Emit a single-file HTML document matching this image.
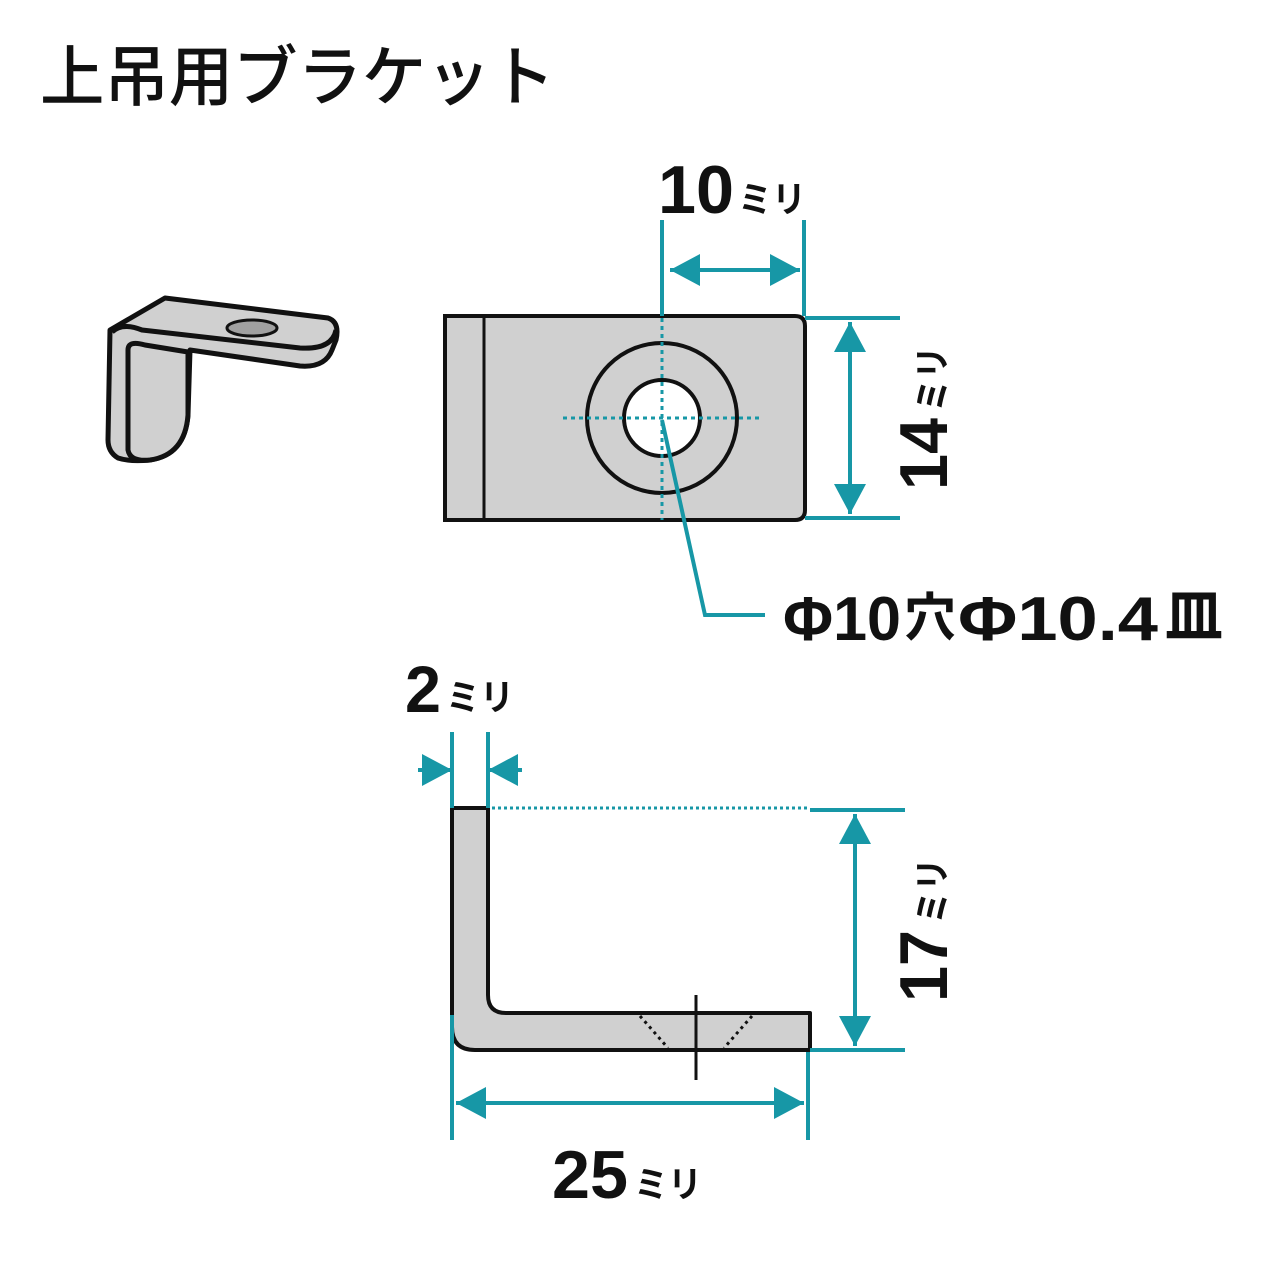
<!DOCTYPE html>
<html><head><meta charset="utf-8"><style>
html,body{margin:0;padding:0;background:#fff;width:1280px;height:1280px;overflow:hidden}
svg{display:block}
.n{font-family:"Liberation Sans",sans-serif;font-weight:bold;fill:#111}
.j{font-family:"Liberation Sans","Noto Sans CJK JP",sans-serif;fill:#111}
</style></head><body>
<svg width="1280" height="1280" viewBox="0 0 1280 1280" xmlns="http://www.w3.org/2000/svg">
<defs>
<marker id="a" viewBox="0 0 30 32" refX="30" refY="16" markerWidth="30" markerHeight="32" markerUnits="userSpaceOnUse" orient="auto-start-reverse"><path d="M0,0 L30,16 L0,32 Z" fill="#1797a6"/></marker>
</defs>
<text x="40" y="100" class="j" font-size="66" font-weight="500" textLength="515" lengthAdjust="spacingAndGlyphs">上吊用ブラケット</text>

<!-- iso view -->
<g stroke="#111" stroke-width="5" fill="#d0d0d0" stroke-linejoin="round">
<path d="M110,330 L165,298 L328,318 Q340,322 336,340 L332,350 Q325,368 300,366 L190,350 L188,415 Q185,455 150,460 Q130,462 118,458 Q108,452 108,440 Z"/>
<path d="M112,332 Q122,322 142,330 L300,348 Q332,350 336,330" fill="none"/>
<path d="M128,350 Q128,340 145,345 L188,352 L188,415 Q185,455 150,460 Q130,462 128,450 Z"/>
<ellipse cx="252" cy="328" rx="25" ry="8" fill="#a0a0a0" stroke-width="3"/>
</g>

<!-- top view -->
<path d="M445,316 L795,316 Q805,316 805,326 L805,510 Q805,520 795,520 L445,520 Z" fill="#d0d0d0" stroke="#111" stroke-width="4"/>
<line x1="484" y1="316" x2="484" y2="520" stroke="#111" stroke-width="3"/>
<circle cx="662" cy="418" r="75" fill="none" stroke="#111" stroke-width="4"/>
<circle cx="662" cy="418" r="38" fill="#fff" stroke="#111" stroke-width="4"/>
<g stroke="#1797a6" stroke-width="3" stroke-dasharray="4,4">
<line x1="662" y1="318" x2="662" y2="520"/>
<line x1="563" y1="418" x2="762" y2="418"/>
</g>
<g stroke="#1797a6" stroke-width="4" fill="none">
<line x1="662" y1="220" x2="662" y2="316"/>
<line x1="804" y1="220" x2="804" y2="316"/>
<line x1="670" y1="270" x2="800" y2="270" marker-start="url(#a)" marker-end="url(#a)"/>
<line x1="805" y1="318" x2="900" y2="318"/>
<line x1="805" y1="518" x2="900" y2="518"/>
<line x1="850" y1="322" x2="850" y2="514" marker-start="url(#a)" marker-end="url(#a)"/>
<polyline points="662,420 705,615 765,615"/>
</g>
<text x="658" y="213" class="n" font-size="68" textLength="76" lengthAdjust="spacingAndGlyphs">10</text>
<text x="738" y="212" class="j" font-size="36" font-weight="bold" textLength="68" lengthAdjust="spacingAndGlyphs">ミリ</text>
<g transform="translate(947,490) rotate(-90)"><text x="0" y="0" class="n" font-size="68" textLength="72" lengthAdjust="spacingAndGlyphs">14</text><text x="78" y="-2" class="j" font-size="36" font-weight="bold" textLength="66" lengthAdjust="spacingAndGlyphs">ミリ</text></g>
<text x="783" y="640" class="n" font-size="62" textLength="118" lengthAdjust="spacingAndGlyphs">Φ10</text>
<text x="904" y="636" class="j" font-size="52" font-weight="bold">穴</text>
<text x="958" y="640" class="n" font-size="62" textLength="200" lengthAdjust="spacingAndGlyphs">Φ10.4</text>
<text x="1165" y="636" class="j" font-size="58" font-weight="bold">皿</text>

<!-- side view -->
<path d="M452,808 L488,808 L488,995 Q488,1013 506,1013 L810,1013 L810,1050 L475,1050 Q452,1050 452,1027 Z" fill="#d0d0d0" stroke="#111" stroke-width="4" stroke-linejoin="round"/>
<g stroke="#111" stroke-width="3" stroke-dasharray="3,4" fill="none">
<line x1="640" y1="1016" x2="668" y2="1048"/>
<line x1="752" y1="1016" x2="724" y2="1048"/>
</g>
<line x1="696" y1="995" x2="696" y2="1080" stroke="#111" stroke-width="3"/>
<line x1="492" y1="808" x2="808" y2="808" stroke="#1797a6" stroke-width="3" stroke-dasharray="3,3"/>
<g stroke="#1797a6" stroke-width="4" fill="none">
<line x1="452" y1="732" x2="452" y2="808"/>
<line x1="488" y1="732" x2="488" y2="808"/>
<line x1="418" y1="770" x2="452" y2="770" marker-end="url(#a)"/>
<line x1="522" y1="770" x2="488" y2="770" marker-end="url(#a)"/>
<line x1="810" y1="810" x2="905" y2="810"/>
<line x1="810" y1="1050" x2="905" y2="1050"/>
<line x1="855" y1="814" x2="855" y2="1046" marker-start="url(#a)" marker-end="url(#a)"/>
<line x1="452" y1="1015" x2="452" y2="1140"/>
<line x1="808" y1="1052" x2="808" y2="1140"/>
<line x1="456" y1="1103" x2="804" y2="1103" marker-start="url(#a)" marker-end="url(#a)"/>
</g>
<text x="405" y="712" class="n" font-size="66" textLength="36" lengthAdjust="spacingAndGlyphs">2</text>
<text x="446" y="710" class="j" font-size="36" font-weight="bold" textLength="68" lengthAdjust="spacingAndGlyphs">ミリ</text>
<g transform="translate(947,1002) rotate(-90)"><text x="0" y="0" class="n" font-size="68" textLength="72" lengthAdjust="spacingAndGlyphs">17</text><text x="78" y="-2" class="j" font-size="36" font-weight="bold" textLength="66" lengthAdjust="spacingAndGlyphs">ミリ</text></g>
<text x="552" y="1198" class="n" font-size="68" textLength="76" lengthAdjust="spacingAndGlyphs">25</text>
<text x="634" y="1197" class="j" font-size="36" font-weight="bold" textLength="68" lengthAdjust="spacingAndGlyphs">ミリ</text>
</svg>
</body></html>
